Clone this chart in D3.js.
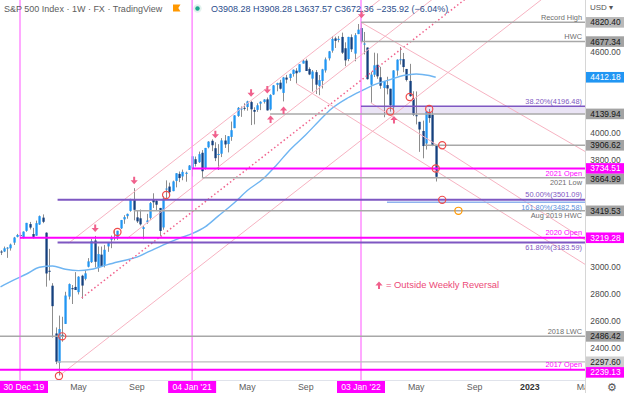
<!DOCTYPE html>
<html>
<head>
<meta charset="utf-8">
<script src="https://cdn.jsdelivr.net/npm/d3@7/dist/d3.min.js"></script>
<style>
html,body{margin:0;padding:0;background:#fff;overflow:hidden}
svg{display:block}
text{font-family:"Liberation Sans",Arial,sans-serif}
</style>
</head>
<body>
<svg id="chart" width="624" height="393"></svg>
<script>
// ================= DATA =================
const firstWeek = "2019-11-18";
const lastWeek = "2022-06-13";

const opens = [3117,3117,3144,3141,3183,3226,3240,
3217,3271,3321,3247,3235,3318,3369,3257,2974,2863,2508,2290,2498,2579,2782,2845,2854,2815,2937,2914,3004,3038,3199,2994,3094,3018,3155,3205,3224,3219,3289,3356,3380,3419,3507,3371,3364,3285,3334,3367,3500,3493,3441,3296,3583,3600,3566,3642,3694,3675,3694,3723,
3734.51,3803,3781,3851,3732,3892,3940,3885,3842,3844,3942,3916,3969,4034,4125,4180,4185,4191,4228,4169,4170,4216,4229,4248,4173,4284,4356,4372,4296,4410,4407,4437,4461,4450,4514,4536,4474,4402,4450,4348,4385,4463,4553,4610,4701,4689,4712,4628,4548,4710,4588,4733,
4778,4655,4633,4357,4431,4505,4412,4332,4354,4327,4189,4462,4541,4547,4474,4385,4256,4130,4081,4013,3920,4151,4134,3908.28];

const highs = [3127,3154,3150,3176,3226,3248,3259,
3267,3330,3337,3293,3347,3385,3393,3260,3137,2882,2553,2641,2632,2818,2880,2868,2964,2934,2944,2980,3068,3211,3233,3155,3154,3166,3185,3236,3280,3272,3352,3387,3399,3509,3588,3425,3429,3306,3397,3485,3550,3502,3441,3529,3646,3629,3644,3699,3712,3726,3711,3760,
3827,3823,3860,3871,3887,3937,3951,3929,3915,3960,3983,3975,4083,4130,4191,4195,4219,4238,4237,4189,4219,4234,4249,4262,4286,4355,4372,4393,4415,4430,4440,4470,4480,4510,4545,4549,4486,4466,4466,4429,4475,4559,4608,4718,4714,4718,4744,4672,4713,4731,4740,4808,
4820.40,4749,4634,4453,4595,4590,4490,4385,4416,4327,4465,4546,4637,4593,4474,4512,4308,4307,4081,4090,4160,4177,4168,3908.28];

const lows = [3091,3113,3070,3124,3166,3222,3213,
3214,3264,3281,3214,3234,3315,3328,2856,2902,2478,2280,2192,2447,2579,2761,2727,2831,2798,2766,2903,2999,3032,2999,2966,3007,2999,3115,3142,3200,3204,3284,3323,3361,3413,3349,3329,3310,3209,3323,3354,3441,3419,3233,3279,3512,3543,3565,3594,3633,3647,3636,3723,
3675,3749,3775,3664.99,3725,3884,3863,3789,3723,3819,3887,3854,3940,4034,4118,4118,4165,4164,4057,4062,4155,4168,4217,4165,4165,4280,4308,4321,4233,4367,4385,4417,4367,4448,4514,4468,4428,4306,4288,4279,4329,4447,4537,4595,4630,4672,4585,4495,4532,4600,4531,4733,
4662,4582,4395,4223,4414,4401,4327,4115,4285,4157,4161,4424,4507,4450,4381,4267,4124,4062,3858,3810,3875,4074,3900,3637.57];

const closes = [3110,3141,3146,3169,3221,3240,3235,
3265,3330,3295,3226,3328,3380,3338,2954,2972,2711,2297.60,2541,2489,2790,2875,2837,2831,2930,2864,2955,3044,3194,3041,3098,3009,3130,3185,3225,3216,3271,3351,3373,3397,3508,3427,3341,3319,3298,3348,3477,3483,3465,3270,3510,3585,3558,3638,3699,3663,3709,3703,3756,
3825,3768,3841,3714,3887,3934,3907,3811,3842,3943,3913,3974,4019,4129,4185,4180,4181,4233,4174,4156,4204,4230,4247,4166,4281,4352,4369,4327,4411,4395,4437,4468,4442,4509,4535,4459,4433,4455,4357,4391,4471,4545,4605,4697,4683,4698,4595,4538,4712,4620,4725,4766,
4677.34,4663,4398,4432,4501,4419,4349,4385,4329,4204,4463,4543,4546,4488,4392,4272,4132,4123,4024,3901,4158,4109,3908.28,3672.36];

// 52-week simple moving average
const smaDates = ["2019-11-18","2019-12-16","2020-01-13","2020-02-10","2020-03-09","2020-04-06","2020-05-04","2020-06-01","2020-07-06","2020-08-03","2020-09-07","2020-10-05","2020-11-02","2020-12-07","2021-01-04","2021-02-01","2021-03-01","2021-04-05","2021-05-03","2021-06-07","2021-07-05","2021-08-02","2021-09-06","2021-10-04","2021-11-01","2021-12-06","2022-01-03","2022-02-07","2022-03-07","2022-04-04","2022-05-02","2022-05-30","2022-06-13"];
const smaValues = [2855,2905,2950,3000,3010,2985,2975,2985,3020,3045,3075,3120,3165,3215,3250,3300,3380,3480,3570,3660,3760,3870,3985,4085,4180,4260,4310,4365,4395,4425,4437,4425,4412.18];

// horizontal levels
const levelPrices = [4820.40,4677.34,4196.48,4139.94,3906.62,3734.51,3664.99,3501.09,3482.58,3419.53,3219.28,3183.59,2486.42,2297.60,2239.13];
const levelNames = ["Record High","HWC","38.20%(4196.48)","","","2021 Open","2021 Low","50.00%(3501.09)","161.80%(3482.58)","Aug 2019 HWC","2020 Open","61.80%(3183.59)","2018 LWC","","2017 Open"];
const levelKinds = ["level","level","fib","level","level","open","level","fib","ext","level","open","fib","level","minor","open"];
const levelFrom = ["2022-01-03","2022-01-03","2022-01-03","2021-06-21","2022-05-20","2021-01-04","2021-01-25","2020-03-20","2022-02-28","2020-08-31","2019-12-30","2020-03-20","2019-11-01","2020-03-18","2019-11-01"];
const namesBelowLine = ["2021 Open","2021 Low","161.80%(3482.58)","Aug 2019 HWC","61.80%(3183.59)"];

const bandTop = 4196.48, bandBottom = 4139.94, bandFrom = "2022-01-03";

const smaLastValue = 4412.18;
const priceTicks = [2200,2400,2600,2800,3000,3200,3400,3600,3800,4000,4200,4400,4600,4800];

// trend channel lines
const chanFromDates = ["2020-04-13","2020-08-17","2020-05-11","2020-03-23","2022-01-03","2021-08-16","2022-01-24"];
const chanFromPrices = [3180,3215,2772,2192,4820.4,4367,4223];
const chanToDates = ["2022-03-28","2022-08-29","2022-08-22","2023-03-06","2023-06-05","2023-06-05","2023-06-05"];
const chanToPrices = [5105,5219,5010,5092,3791,2946,3126];
const chanDotted = [false,false,true,false,false,false,false];

// outside weekly reversal markers
const markerDates = ["2020-06-08","2020-08-31","2021-02-22","2021-05-10","2021-06-14","2022-01-03","2021-06-21","2021-07-19","2022-03-14"];
const markerDirs = ["down","down","down","down","down","down","up","up","up"];

// circles
const circleDates = ["2020-03-23","2020-03-30","2020-07-27","2020-11-09","2022-03-07","2022-04-18","2022-05-30","2022-06-27","2022-06-13","2022-06-27","2022-08-01"];
const circlePrices = [2192,2486.42,3262,3537,4157,4265,4177,3906.62,3734.51,3501.09,3419.53];
const circleKinds = ["red","red","red","red","red","red","red","red","red","red","orange"];

// vertical date lines and time axis
const vlineDates = ["2019-12-30","2021-01-04","2022-01-03"];
const vlineLabels = ["30 Dec '19","04 Jan '21","03 Jan '22"];
const timeTickDates = ["2020-05-04","2020-09-07","2021-05-03","2021-09-06","2022-05-02","2022-09-05","2023-01-02","2023-05-01"];
const timeTickLabels = ["May","Sep","May","Sep","May","Sep","2023","May"];

const headerTitle = "S&P 500 Index · 1W · FX · TradingView";
const headerOHLC = "O3908.28 H3908.28 L3637.57 C3672.36 −235.92 (−6.04%)";
const legendText = "= Outside Weekly Reversal";

// ================= CHART =================
const W = 624, H = 393, plotR = 585, plotB = 380;
const parse = d3.timeParse("%Y-%m-%d");
const fmt = d3.timeFormat("%Y-%m-%d");
const svg = d3.select("#chart");

const x = d3.scaleTime().domain([parse("2019-12-30"), parse("2022-01-03")]).range([20, 361]);
const y = d3.scaleLinear().domain([4600, 2400]).range([52, 348]);

const dates = d3.timeMonday.range(parse(firstWeek), d3.timeDay.offset(parse(lastWeek), 1));
const candles = dates.map((d, i) => ({d, o: opens[i], h: highs[i], l: lows[i], c: closes[i]}));
const byDate = new Map(candles.map(c => [fmt(c.d), c]));

svg.append("rect").attr("width", W).attr("height", H).attr("fill", "#fff");

const defs = svg.append("defs");
defs.append("clipPath").attr("id", "plotclip")
  .append("rect").attr("x", 0).attr("y", 0).attr("width", plotR).attr("height", plotB);
defs.append("clipPath").attr("id", "timeclip")
  .append("rect").attr("x", 0).attr("y", plotB).attr("width", plotR).attr("height", H - plotB);
const g = svg.append("g").attr("clip-path", "url(#plotclip)");

// candles
const cg = g.append("g");
candles.forEach(c => {
  const cx = Math.round(x(c.d));
  const up = c.c >= c.o;
  cg.append("rect").attr("x", cx).attr("width", 1)
    .attr("y", y(c.h)).attr("height", Math.max(1, y(c.l) - y(c.h)))
    .attr("fill", "#8d8d8d");
  const top = y(Math.max(c.o, c.c)), bot = y(Math.min(c.o, c.c));
  cg.append("rect").attr("x", cx - 0.6).attr("width", 2.3)
    .attr("y", top).attr("height", Math.max(1, bot - top))
    .attr("fill", up ? "#2196f3" : "#15407e");
});

// SMA
g.append("path")
  .attr("d", d3.line().x((d, i) => x(parse(smaDates[i]))).y(d => y(d)).curve(d3.curveMonotoneX)(smaValues))
  .attr("fill", "none").attr("stroke", "#6fb5f2").attr("stroke-width", 1.4);

// vertical lines
vlineDates.forEach(d => {
  g.append("line").attr("x1", x(parse(d))).attr("x2", x(parse(d)))
    .attr("y1", 0).attr("y2", plotB).attr("stroke", "#ff8cff").attr("stroke-width", 1.5);
});

// band
g.append("rect").attr("x", x(parse(bandFrom))).attr("width", plotR - x(parse(bandFrom)))
  .attr("y", y(bandTop)).attr("height", y(bandBottom) - y(bandTop))
  .attr("fill", "rgba(126,87,194,0.16)");

// channel lines
chanFromDates.forEach((d, i) => {
  g.append("line")
    .attr("x1", x(parse(d))).attr("y1", y(chanFromPrices[i]))
    .attr("x2", x(parse(chanToDates[i]))).attr("y2", y(chanToPrices[i]))
    .attr("stroke", chanDotted[i] ? "#f0628c" : "#f7b3c2")
    .attr("stroke-width", chanDotted[i] ? 1.5 : 1)
    .attr("stroke-dasharray", chanDotted[i] ? "1.5,2.5" : null);
});

// horizontal levels
const lineStyle = {
  level: {stroke: "#a8a8a8", w: 1.5, text: "#6e6e6e"},
  minor: {stroke: "#bdbdbd", w: 1.3, text: "#6e6e6e"},
  open: {stroke: "#ff00ff", w: 2, text: "#ff00ff"},
  fib: {stroke: "#7e57c2", w: 2, text: "#7e57c2"},
  ext: {stroke: "#8fb3ee", w: 1.5, text: "#5b8fdb"}
};
levelPrices.forEach((p, i) => {
  const st = lineStyle[levelKinds[i]];
  const ly = y(p);
  g.append("line").attr("x1", x(parse(levelFrom[i]))).attr("x2", plotR)
    .attr("y1", ly).attr("y2", ly)
    .attr("stroke", st.stroke).attr("stroke-width", (levelNames[i].startsWith("38.20") ? 1.5 : st.w));
  if (levelNames[i]) {
    const below = namesBelowLine.includes(levelNames[i]);
    g.append("text").attr("x", 582).attr("y", below ? ly + 7.5 : ly - 2.5)
      .attr("text-anchor", "end").attr("font-size", 7.4).attr("fill", st.text)
      .text(levelNames[i]);
  }
});

// circles
circleDates.forEach((d, i) => {
  g.append("circle").attr("cx", x(parse(d))).attr("cy", y(circlePrices[i])).attr("r", 3.6)
    .attr("fill", "none").attr("stroke", circleKinds[i] === "orange" ? "#ff9800" : "#ef4b4b")
    .attr("stroke-width", 1.2);
});

// arrows
const downArrow = "M-1,-4.5 h2 v3.5 h2.6 l-3.6,4 l-3.6,-4 h2.6 z";
function arrow(parent, cx, cy, dir) {
  parent.append("path").attr("d", downArrow)
    .attr("transform", `translate(${cx},${cy})` + (dir === "up" ? " rotate(180)" : ""))
    .attr("fill", "#f0608c");
}
markerDates.forEach((d, i) => {
  const c = byDate.get(d);
  const cx = x(c.d) + 0.5;
  if (markerDirs[i] === "down") arrow(g, cx, y(c.h) - 7, "down");
  else arrow(g, cx, y(c.l) + 8, "up");
});

// legend
arrow(svg, 379, 284.5, "up");
svg.append("text").attr("x", 386).attr("y", 288).attr("font-size", 9.4)
  .attr("fill", "#ec4a78").text(legendText);

// header
svg.append("text").attr("x", 4).attr("y", 12).attr("font-size", 9).attr("fill", "#5d5d5d").text(headerTitle);
svg.append("path").attr("d", "M173,4.5 h7.5 l-2.2,3.5 l2.2,3.5 h-7.5 z").attr("fill", "#ff9800");
svg.append("circle").attr("cx", 197.5).attr("cy", 8.5).attr("r", 4.2).attr("fill", "#e3f2ee");
svg.append("circle").attr("cx", 197.5).attr("cy", 8.5).attr("r", 2.2).attr("fill", "#1fa58f");
svg.append("text").attr("x", 211).attr("y", 12).attr("font-size", 9).attr("fill", "#2b4d8c").text(headerOHLC);

// price axis
svg.append("rect").attr("x", plotR).attr("y", 0).attr("width", W - plotR).attr("height", H).attr("fill", "#fff");
svg.append("line").attr("x1", plotR + 0.5).attr("x2", plotR + 0.5).attr("y1", 0).attr("y2", H)
  .attr("stroke", "#d6d6d6");
svg.append("text").attr("x", 590).attr("y", 10).attr("font-size", 8).attr("fill", "#555").text("USD ▾");

// coloured price labels, pushed apart so they do not overlap
const axisBg = {level: ["#a3a3a3", "#151515"], minor: ["#cfcfcf", "#222"], open: ["#ff00ff", "#fff"]};
const axisLabels = [];
levelPrices.forEach((p, i) => {
  const s = axisBg[levelKinds[i]];
  if (s) axisLabels.push({p, bg: levelNames[i] === "Record High" ? "#b9b9b9" : s[0], fg: s[1]});
});
axisLabels.push({p: smaLastValue, bg: "#2196f3", fg: "#fff"});
axisLabels.forEach(l => l.y = y(l.p));
axisLabels.sort((a, b) => a.y - b.y);
const boxH = 10.6;
for (let i = 1; i < axisLabels.length; i++) {
  if (axisLabels[i].y - axisLabels[i - 1].y < boxH) axisLabels[i].y = axisLabels[i - 1].y + boxH;
}
priceTicks.forEach(p => {
  const ty = y(p);
  if (axisLabels.some(l => Math.abs(l.y - ty) < 8.5)) return;
  svg.append("text").attr("x", 605.5).attr("y", ty + 3).attr("text-anchor", "middle")
    .attr("font-size", 8.4).attr("fill", "#4a4a4a").text(p.toFixed(2));
});
axisLabels.forEach(l => {
  svg.append("rect").attr("x", plotR + 1).attr("y", l.y - boxH / 2).attr("width", W - plotR - 1).attr("height", boxH).attr("fill", l.bg);
  svg.append("text").attr("x", 605.5).attr("y", l.y + 3).attr("text-anchor", "middle")
    .attr("font-size", 8.4).attr("fill", l.fg).text(l.p.toFixed(2));
});

// time axis
svg.append("rect").attr("x", 0).attr("y", plotB).attr("width", plotR).attr("height", H - plotB).attr("fill", "#fff");
svg.append("line").attr("x1", 0).attr("x2", plotR).attr("y1", plotB + 0.5).attr("y2", plotB + 0.5).attr("stroke", "#e0e3eb");
const tg = svg.append("g").attr("clip-path", "url(#timeclip)");
timeTickDates.forEach((d, i) => {
  const isYear = /^\d{4}$/.test(timeTickLabels[i]);
  tg.append("text").attr("x", x(parse(d))).attr("y", 390).attr("text-anchor", "middle")
    .attr("font-size", 8.8).attr("font-weight", isYear ? "bold" : "normal")
    .attr("fill", isYear ? "#333" : "#5d5d5d").text(timeTickLabels[i]);
});
vlineDates.forEach((d, i) => {
  const cx = x(parse(d));
  const x0 = Math.max(0, cx - 24);
  tg.append("rect").attr("x", x0).attr("y", plotB + 1).attr("width", 48).attr("height", H - plotB - 1).attr("fill", "#ff00ff");
  tg.append("text").attr("x", x0 + 24).attr("y", 390).attr("text-anchor", "middle")
    .attr("font-size", 8.6).attr("fill", "#fff").text(vlineLabels[i]);
});
// settings gear
svg.append("text").attr("x", 612).attr("y", 391).attr("text-anchor", "middle")
  .attr("font-family", "DejaVu Sans").attr("font-size", 11).attr("fill", "#555").text("⚙");
</script>
</body>
</html>
